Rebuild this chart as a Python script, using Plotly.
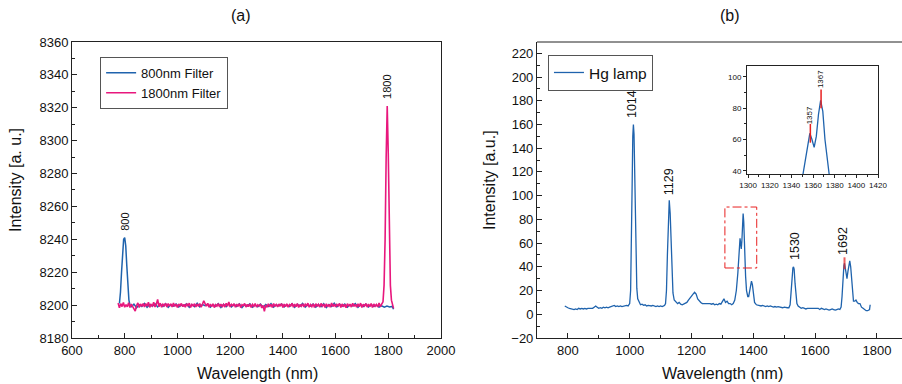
import plotly.graph_objects as go

# ---------------- (a) filters ----------------
blue_peak_wl = [780, 784, 788, 792, 796, 800, 804, 808, 812, 816, 820]
blue_peak_int = [8201, 8208, 8220, 8232, 8240, 8241, 8236, 8224, 8211, 8203, 8200]
blue_base_wl = list(range(825, 1816, 10)) + [1820]
blue_base_int = [
    8199.0, 8200.6, 8198.4, 8200.2, 8199.1, 8201.0, 8198.7, 8200.4, 8199.3, 8200.8,
    8198.9, 8200.5, 8199.2, 8200.9, 8198.6, 8200.3, 8199.4, 8200.7, 8198.8, 8200.1,
    8199.5, 8200.8, 8198.7, 8200.4, 8199.0, 8201.1, 8198.9, 8200.3, 8199.6, 8200.6,
    8198.8, 8200.2, 8199.3, 8200.9, 8198.6, 8200.5, 8199.1, 8201.0, 8198.9, 8200.4,
    8199.2, 8200.7, 8198.5, 8200.3, 8199.4, 8200.8, 8198.7, 8200.1, 8199.0, 8200.6,
    8198.6, 8200.4, 8199.2, 8200.9, 8198.8, 8200.2, 8199.5, 8200.7, 8198.9, 8200.3,
    8199.1, 8200.8, 8198.6, 8200.5, 8199.3, 8201.0, 8198.8, 8200.2, 8199.4, 8200.6,
    8198.7, 8200.3, 8199.0, 8200.9, 8198.5, 8200.4, 8199.2, 8201.2, 8198.9, 8200.5,
    8199.3, 8200.7, 8198.8, 8200.2, 8199.5, 8200.9, 8198.6, 8200.4, 8199.1, 8200.6,
    8198.9, 8200.3, 8199.2, 8200.0, 8198.8, 8199.6, 8198.7, 8199.4, 8198.9, 8199.2,
    8197.5,
]
pink_base_wl = list(range(775, 1776, 5))
pink_base_int = [
    8201.2, 8198.4, 8200.9, 8199.1, 8201.6, 8198.7, 8200.3, 8199.0, 8201.4, 8198.6,
    8200.6, 8198.9, 8197.2, 8196.4, 8199.8, 8201.3, 8198.5, 8200.7, 8199.2, 8201.0,
    8198.8, 8200.9, 8199.3, 8201.7, 8198.6, 8200.4, 8199.5, 8201.8, 8198.9, 8200.6,
    8203.4, 8199.1, 8201.2, 8198.7, 8200.5, 8199.6, 8201.1, 8198.8, 8200.9, 8199.4,
    8200.8, 8198.9, 8201.3, 8199.2, 8200.6, 8198.5, 8200.7, 8199.6, 8201.0, 8199.1,
    8200.5, 8198.7, 8200.9, 8199.3, 8201.2, 8198.6, 8200.4, 8199.5, 8200.8, 8198.9,
    8200.7, 8199.2, 8201.0, 8198.8, 8200.5, 8202.6, 8200.9, 8199.4, 8201.1, 8198.7,
    8200.6, 8199.0, 8200.8, 8198.5, 8200.3, 8199.4, 8200.9, 8198.9, 8200.6, 8199.2,
    8200.4, 8198.8, 8201.1, 8199.3, 8201.9, 8198.9, 8200.5, 8199.6, 8200.8, 8198.7,
    8200.6, 8199.2, 8200.9, 8198.5, 8200.3, 8199.7, 8201.0, 8198.8, 8200.5, 8199.1,
    8200.7, 8198.6, 8200.4, 8199.3, 8200.9, 8198.8, 8200.2, 8199.4, 8200.6, 8198.3,
    8199.8, 8196.2, 8200.1, 8198.7, 8200.8, 8199.0, 8200.5, 8198.6, 8200.9, 8199.2,
    8200.4, 8198.9, 8200.7, 8199.3, 8201.0, 8198.5, 8200.6, 8199.1, 8200.8, 8198.8,
    8200.3, 8199.5, 8201.1, 8198.7, 8200.6, 8199.0, 8200.9, 8198.6, 8200.4, 8199.3,
    8200.8, 8198.9, 8200.5, 8199.6, 8201.2, 8198.7, 8200.3, 8199.1, 8200.7, 8198.5,
    8200.9, 8199.2, 8200.4, 8198.8, 8201.0, 8199.4, 8200.6, 8198.6, 8200.8, 8199.0,
    8200.5, 8198.7, 8201.3, 8199.1, 8200.6, 8198.9, 8200.4, 8199.5, 8201.0, 8198.6,
    8200.7, 8199.0, 8200.5, 8198.4, 8200.9, 8199.3, 8200.6, 8198.8, 8201.1, 8199.2,
    8200.4, 8198.7, 8200.8, 8199.0, 8201.2, 8198.6, 8200.5, 8199.4, 8200.9, 8198.8,
    8200.6, 8199.1, 8201.0, 8198.5, 8200.7, 8199.3, 8200.4, 8198.9, 8201.3, 8199.0,
    8200.6,
]
pink_peak_wl = [1780, 1784, 1788, 1792, 1796, 1800, 1804, 1808, 1812, 1816, 1820]
pink_peak_int = [8202, 8212, 8240, 8290, 8321, 8292, 8242, 8212, 8203, 8200, 8198]

a_labels = ["800", "1800"]
a_label_wl = [800, 1797]
a_label_int = [8250.5, 8333]

# ---------------- (b) Hg lamp ----------------
hg_wl = [
    790, 795, 800, 805, 810, 815, 820, 825, 830, 835, 840, 845, 850, 855, 860, 865, 870, 875, 880, 885,
    890, 895, 900, 905, 910, 915, 920, 925, 930, 935, 940, 945, 950, 955, 960, 965, 970, 975, 980, 985,
    990, 995,
    1000, 1003, 1006, 1008, 1010, 1012, 1014, 1016, 1018, 1020, 1023, 1026, 1030, 1035, 1040,
    1045, 1050, 1055, 1060, 1065, 1070, 1075, 1080, 1085, 1090, 1095, 1100, 1105, 1110,
    1113, 1116, 1119, 1122, 1125, 1128, 1131, 1134, 1137, 1140, 1144, 1150, 1155, 1160, 1165,
    1170, 1175, 1180, 1185, 1190, 1195, 1200, 1205, 1210, 1215, 1220, 1225, 1230, 1235, 1240,
    1245, 1250, 1255, 1260, 1265, 1270, 1275, 1280, 1285, 1290, 1295,
    1300, 1305, 1310, 1315, 1320, 1325, 1330, 1335, 1340,
    1345, 1350, 1353, 1355, 1357, 1359, 1361, 1363, 1365, 1367, 1369, 1371, 1373, 1375, 1378, 1382, 1385,
    1388, 1391, 1394, 1397, 1400, 1404, 1410, 1415, 1420,
    1425, 1430, 1435, 1440, 1445, 1450, 1455, 1460, 1465, 1470, 1475, 1480, 1485, 1490, 1495, 1500,
    1505, 1510, 1515,
    1519, 1522, 1525, 1528, 1530, 1532, 1535, 1538, 1541, 1545, 1550,
    1555, 1560, 1565, 1570, 1575, 1580, 1585, 1590, 1595, 1600, 1605, 1610, 1615, 1620, 1625, 1630,
    1635, 1640, 1645, 1650, 1655, 1660, 1665, 1670, 1675, 1680,
    1684, 1687, 1690, 1693, 1695, 1697, 1700, 1703, 1706, 1709, 1712, 1715, 1718, 1721, 1724, 1728,
    1732, 1736, 1740, 1745, 1750, 1755, 1760, 1765, 1770, 1774, 1776, 1778,
]
hg_int = [
    7, 6, 5.5, 5, 4.5, 4.5, 4, 4.5, 4, 5, 4.5, 5, 4.5, 5, 4.5, 5, 5, 5.5, 5, 6,
    7, 6, 5, 5.5, 5, 6, 5.5, 6, 5.5, 6, 6.5, 7, 7.5, 6.5, 7, 6.5, 7, 6.5, 7, 7,
    7.5, 7,
    9, 20, 60, 110, 150, 160, 152, 120, 80, 45, 22, 13, 10, 8, 8.5,
    7.5, 8, 7, 7.5, 7, 7, 7.5, 7, 6.5, 7, 6.5, 7, 6.5, 7,
    7.5, 9, 20, 50, 85, 96, 85, 55, 30, 18, 12, 10, 9, 10, 8.5,
    8, 8.5, 9, 10, 12, 14, 16, 17, 18.5, 17, 13, 11, 10, 9, 9,
    9, 9.5, 9, 9, 8.5, 9, 8, 8.5, 8, 9, 8.5,
    11, 13, 10, 11, 9, 9, 8, 9, 12,
    20, 35, 48, 58, 64, 60, 55, 62, 76, 85, 78, 60, 45, 32, 20, 15, 15,
    20, 27, 28, 25, 17, 10, 8, 7.5, 7,
    7, 7.5, 7, 6.5, 7, 6.5, 7, 6.5, 6, 6.5, 6, 6.5, 6, 6, 5.5, 6,
    5.5, 5.5, 5.5,
    8, 18, 32, 39, 40, 38, 26, 14, 9, 7, 6,
    5, 5.5, 5, 4.5, 5, 5, 4.5, 5, 4.5, 5, 4.5, 5, 4, 5, 4.5, 4,
    4.5, 4, 3.5, 4, 4.5, 4, 3.5, 4, 4.5, 4,
    6, 15, 30, 41, 43, 40, 33, 30, 36, 43, 45, 40, 28, 16, 11, 11,
    12, 10, 9, 9, 6, 5, 4, 3, 3, 4, 4, 8,
]
assert len(hg_wl) == len(hg_int)

b_labels = ["1014", "1129", "1530", "1692"]
b_label_wl = [1010, 1130, 1535, 1690]
b_label_int = [177, 112, 57.6, 61.8]

b_mark_wl = [1695]
b_mark_lo = [38]
b_mark_hi = [48]
inset_labels = ["1357", "1367"]
inset_mark_wl = [1357.5, 1367.4]
inset_mark_lo = [58, 80]
inset_mark_hi = [70, 92]
inset_label_int = [75.7, 98.7]

zoom_box_wl = [1308, 1411]
zoom_box_int = [39, 90.4]

BLUE = "#1f63ad"
PINK = "#e8177d"
FONT = "Arial, Liberation Sans, sans-serif"
AX = "#222222"

fig = go.Figure()
fig.add_trace(go.Scatter(x=blue_peak_wl + blue_base_wl, y=blue_peak_int + blue_base_int,
                         mode="lines", line=dict(color=BLUE, width=1.5),
                         name="800nm Filter", xaxis="x", yaxis="y", legend="legend"))
fig.add_trace(go.Scatter(x=pink_base_wl + pink_peak_wl, y=pink_base_int + pink_peak_int,
                         mode="lines", line=dict(color=PINK, width=1.6),
                         name="1800nm Filter", xaxis="x", yaxis="y", legend="legend"))
fig.add_trace(go.Scatter(x=hg_wl, y=hg_int, mode="lines", line=dict(color=BLUE, width=1.3),
                         name="Hg lamp", xaxis="x2", yaxis="y2", legend="legend2"))
fig.add_trace(go.Scatter(x=hg_wl, y=hg_int, mode="lines", line=dict(color=BLUE, width=1.3),
                         showlegend=False, xaxis="x3", yaxis="y3"))

for w, lo, hi in zip(b_mark_wl, b_mark_lo, b_mark_hi):
    fig.add_trace(go.Scatter(x=[w, w], y=[lo, hi], mode="lines", line=dict(color="rgba(230,40,40,0.75)", width=2),
                             showlegend=False, xaxis="x2", yaxis="y2"))
for w, lo, hi in zip(inset_mark_wl, inset_mark_lo, inset_mark_hi):
    fig.add_trace(go.Scatter(x=[w, w], y=[lo, hi], mode="lines", line=dict(color="#e82020", width=1.5),
                             showlegend=False, xaxis="x3", yaxis="y3"))

common = dict(showgrid=False, zeroline=False, showline=True, linecolor=AX, linewidth=1, automargin=False,
              ticks="inside", ticklen=5, tickcolor=AX, tickfont=dict(size=13, color="#111", family=FONT))
inset_common = dict(showgrid=False, zeroline=False, showline=True, mirror=True, linecolor=AX, linewidth=1,
                    automargin=False, ticks="outside", ticklen=3, tickcolor=AX,
                    tickfont=dict(size=8, family=FONT, color="#111"))

fig.update_layout(
    template="none",
    width=902, height=384, margin=dict(l=0, r=0, t=0, b=0, pad=0),
    paper_bgcolor="white", plot_bgcolor="white",
    font=dict(family=FONT, color="#111"),
    xaxis=dict(domain=[0.0798, 0.4889], range=[600, 2000], tick0=600, dtick=200, anchor="y",
               mirror=True, minor=dict(ticks="inside", ticklen=3, dtick=100, tickcolor=AX), **common),
    yaxis=dict(domain=[0.1198, 0.8906], range=[8180, 8360], tick0=8180, dtick=20, anchor="x",
               mirror=True, minor=dict(ticks="inside", ticklen=3, dtick=10, tickcolor=AX), **common),
    xaxis2=dict(domain=[0.5953, 1.0], range=[700, 1881], tick0=800, dtick=200, anchor="y2",
                mirror=False, minor=dict(ticks="inside", ticklen=3, dtick=100, tickcolor=AX), **common),
    yaxis2=dict(domain=[0.1198, 0.8906], range=[-20, 229.5], tick0=0, dtick=20, anchor="x2",
                mirror=False, minor=dict(ticks="inside", ticklen=3, dtick=10, tickcolor=AX), **common),
    xaxis3=dict(domain=[0.8282, 0.9734], range=[1299, 1420], tick0=1300, dtick=20, anchor="y3",
                minor=dict(ticks="outside", ticklen=2, dtick=10, tickcolor=AX), **inset_common),
    yaxis3=dict(domain=[0.5469, 0.8281], range=[38, 107], tick0=0, dtick=20, anchor="x3",
                minor=dict(ticks="outside", ticklen=2, dtick=10, tickcolor=AX), **inset_common),
    legend=dict(x=0.111, y=0.852, xanchor="left", yanchor="top", bgcolor="white",
                bordercolor="#555", borderwidth=1, font=dict(size=13, family=FONT, color="#111"),
                tracegroupgap=0, itemwidth=30),
    legend2=dict(x=0.6075, y=0.857, xanchor="left", yanchor="top", bgcolor="white",
                 bordercolor="#555", borderwidth=1, font=dict(size=15.5, family=FONT, color="#111"),
                 itemwidth=30),
)

fig.add_shape(type="line", xref="paper", yref="paper", x0=0.5953, x1=1.0, y0=0.8906, y1=0.8906,
              line=dict(color=AX, width=1))
fig.add_shape(type="rect", xref="x2", yref="y2", x0=zoom_box_wl[0], x1=zoom_box_wl[1],
              y0=zoom_box_int[0], y1=zoom_box_int[1], line=dict(color="#e82020", width=1, dash="dashdot"))

ann = []
for t, w, v in zip(a_labels, a_label_wl, a_label_int):
    ann.append(dict(text=t, x=w, y=v, xref="x", yref="y", textangle=-90, showarrow=False,
                    xanchor="center", yanchor="middle", font=dict(size=11, family=FONT, color="#111")))
for t, w, v in zip(b_labels, b_label_wl, b_label_int):
    ann.append(dict(text=t, x=w, y=v, xref="x2", yref="y2", textangle=-90, showarrow=False,
                    xanchor="center", yanchor="middle", font=dict(size=12.5, family=FONT, color="#111")))
for t, w, v in zip(inset_labels, inset_mark_wl, inset_label_int):
    ann.append(dict(text=t, x=w, y=v, xref="x3", yref="y3", textangle=-90, showarrow=False,
                    xanchor="center", yanchor="middle", font=dict(size=8, family=FONT, color="#111")))
titles = [
    ("(a)", 241, 15, 0), ("(b)", 730, 15, 0),
    ("Wavelength (nm)", 257, 373, 0), ("Wavelength (nm)", 722, 373, 0),
    ("Intensity [a. u.]", 15, 180, -90), ("Intensity [a.u.]", 489, 180, -90),
]
for t, px, py, ang in titles:
    ann.append(dict(text=t, x=px / 902, y=1 - py / 384, xref="paper", yref="paper", textangle=ang,
                    xanchor="center", yanchor="middle", showarrow=False,
                    font=dict(size=16, family=FONT, color="#111")))
fig.update_layout(annotations=ann)

fig.write_html("out.html", config={"displayModeBar": False},
               post_script="document.body.style.margin='0px';document.body.style.overflow='hidden';")
